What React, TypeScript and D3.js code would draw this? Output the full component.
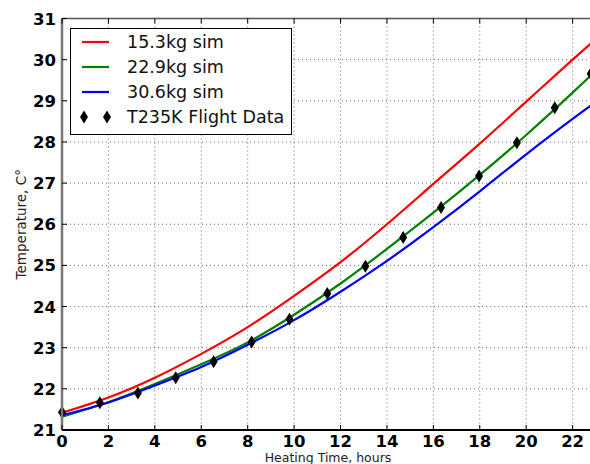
import React, { useRef, useEffect } from "react";
import * as d3 from "d3";

// Heating curves: simulated payload temperature vs. flight data
const simHours = [0, 2, 4, 6, 8, 10, 12, 14, 16, 18, 20, 22, 22.9];
const sim153 = [21.42, 21.79, 22.27, 22.85, 23.5, 24.26, 25.08, 26.0, 26.98, 27.96, 28.98, 30.0, 30.45];
const sim229 = [21.32, 21.68, 22.12, 22.6, 23.13, 23.8, 24.56, 25.4, 26.28, 27.2, 28.17, 29.2, 29.68];
const sim306 = [21.36, 21.67, 22.08, 22.53, 23.07, 23.67, 24.36, 25.11, 25.93, 26.8, 27.7, 28.56, 28.93];

const flightHours = [0, 1.63, 3.27, 4.9, 6.53, 8.17, 9.8, 11.43, 13.07, 14.7, 16.33, 17.97, 19.6, 21.23, 22.78];
const flightTemp = [21.43, 21.66, 21.9, 22.27, 22.66, 23.14, 23.69, 24.32, 24.98, 25.68, 26.41, 27.17, 27.98, 28.83, 29.66];

const xTicks = [0, 2, 4, 6, 8, 10, 12, 14, 16, 18, 20, 22];
const yTicks = [21, 22, 23, 24, 25, 26, 27, 28, 29, 30, 31];

const series = [
  { label: "15.3kg sim", values: sim153, color: "#ff0000" },
  { label: "22.9kg sim", values: sim229, color: "#008000" },
  { label: "30.6kg sim", values: sim306, color: "#0000ff" },
];
const flightLabel = "T235K Flight Data";

const W = 590;
const H = 464;
const margin = { left: 62, top: 18, bottom: 34 };
const pxPerHour = 23.21;

const diamond = (cx, cy) =>
  `M${cx},${cy - 6.5}L${cx + 4},${cy}L${cx},${cy + 6.5}L${cx - 4},${cy}Z`;

const HeatingChart = () => {
  const ref = useRef(null);

  useEffect(() => {
    const svgEl = ref.current;
    if (!svgEl) return;
    d3.select(svgEl).selectChildren().remove();
    const svg = d3.select(svgEl);

    const x = d3
      .scaleLinear()
      .domain([0, 22.9])
      .range([margin.left, margin.left + 22.9 * pxPerHour]);
    const y = d3
      .scaleLinear()
      .domain([21, 31])
      .range([H - margin.bottom, margin.top + 0.5]);

    const x0 = x.range()[0];
    const x1 = x.range()[1];
    const y0 = y.range()[0];
    const y1 = y.range()[1];

    svg.append("rect").attr("width", W).attr("height", H).attr("fill", "#fff");

    // Grid
    const grid = svg.append("g").attr("stroke", "#444").attr("stroke-width", 0.8).attr("stroke-dasharray", "1,3");
    grid
      .selectAll("line.gx")
      .data(xTicks.slice(1))
      .enter()
      .append("line")
      .attr("x1", (d) => x(d))
      .attr("x2", (d) => x(d))
      .attr("y1", y1)
      .attr("y2", y0);
    grid
      .selectAll("line.gy")
      .data(yTicks.slice(1, -1))
      .enter()
      .append("line")
      .attr("x1", x0)
      .attr("x2", x1)
      .attr("y1", (d) => y(d))
      .attr("y2", (d) => y(d));

    // Curves
    const line = d3
      .line()
      .x((d) => x(d[0]))
      .y((d) => y(d[1]))
      .curve(d3.curveNatural);

    svg
      .append("clipPath")
      .attr("id", "plot-clip")
      .append("rect")
      .attr("x", x0)
      .attr("y", y1)
      .attr("width", x1 - x0)
      .attr("height", y0 - y1);

    const plot = svg.append("g").attr("clip-path", "url(#plot-clip)");
    series.forEach((s) => {
      plot
        .append("path")
        .attr("d", line(simHours.map((h, i) => [h, s.values[i]])))
        .attr("fill", "none")
        .attr("stroke", s.color)
        .attr("stroke-width", 2.2);
    });

    // Flight data markers
    svg
      .append("g")
      .selectAll("path")
      .data(flightHours.map((h, i) => [h, flightTemp[i]]))
      .enter()
      .append("path")
      .attr("d", (d) => diamond(x(d[0]), y(d[1])))
      .attr("fill", "#000");

    // Spines
    svg.append("line").attr("x1", x0).attr("x2", x0).attr("y1", y1).attr("y2", y0).attr("stroke", "#777").attr("stroke-width", 2.5);
    svg.append("line").attr("x1", x0).attr("x2", W).attr("y1", y1).attr("y2", y1).attr("stroke", "#555").attr("stroke-width", 1.5);
    svg.append("line").attr("x1", x0).attr("x2", W).attr("y1", y0).attr("y2", y0).attr("stroke", "#000").attr("stroke-width", 1.8);

    // Tick marks (inward)
    const ticks = svg.append("g").attr("stroke", "#000").attr("stroke-width", 1);
    xTicks.forEach((t) => {
      ticks.append("line").attr("x1", x(t)).attr("x2", x(t)).attr("y1", y0).attr("y2", y0 - 5);
      ticks.append("line").attr("x1", x(t)).attr("x2", x(t)).attr("y1", y1).attr("y2", y1 + 5);
    });
    yTicks.forEach((t) => {
      ticks.append("line").attr("x1", x0).attr("x2", x0 + 5).attr("y1", y(t)).attr("y2", y(t));
    });

    // Tick labels
    const font = "'DejaVu Sans', sans-serif";
    svg
      .append("g")
      .selectAll("text")
      .data(xTicks)
      .enter()
      .append("text")
      .attr("x", (d) => x(d))
      .attr("y", y0 + 16.5)
      .attr("text-anchor", "middle")
      .attr("font-family", font)
      .attr("font-weight", "bold")
      .attr("font-size", 16.5)
      .text((d) => d);
    svg
      .append("g")
      .selectAll("text")
      .data(yTicks)
      .enter()
      .append("text")
      .attr("x", x0 - 6)
      .attr("y", (d) => y(d) + 6)
      .attr("text-anchor", "end")
      .attr("font-family", font)
      .attr("font-weight", "bold")
      .attr("font-size", 16.5)
      .text((d) => d);

    // Axis titles
    svg
      .append("text")
      .attr("x", 328)
      .attr("y", 461.5)
      .attr("text-anchor", "middle")
      .attr("font-family", font)
      .attr("font-size", 12.5)
      .attr("fill", "#222")
      .text("Heating Time, hours");
    svg
      .append("text")
      .attr("transform", `translate(26, ${(y0 + y1) / 2}) rotate(-90)`)
      .attr("text-anchor", "middle")
      .attr("font-family", font)
      .attr("font-size", 13.5)
      .attr("fill", "#222")
      .text("Temperature, C°");

    // Legend
    const lg = svg.append("g");
    lg.append("rect")
      .attr("x", 70.5)
      .attr("y", 28.5)
      .attr("width", 221)
      .attr("height", 106)
      .attr("fill", "#fff")
      .attr("stroke", "#000")
      .attr("stroke-width", 1);
    const rowY = [42, 67, 92, 117];
    series.forEach((s, i) => {
      lg.append("line")
        .attr("x1", 82)
        .attr("x2", 109)
        .attr("y1", rowY[i])
        .attr("y2", rowY[i])
        .attr("stroke", s.color)
        .attr("stroke-width", 2.2);
      lg.append("text")
        .attr("x", 127)
        .attr("y", rowY[i] + 6)
        .attr("font-family", font)
        .attr("font-size", 17.5)
        .attr("fill", "#111")
        .text(s.label);
    });
    [84, 107].forEach((cx) => {
      lg.append("path").attr("d", diamond(cx, rowY[3])).attr("fill", "#000");
    });
    lg.append("text")
      .attr("x", 127)
      .attr("y", rowY[3] + 6)
      .attr("font-family", font)
      .attr("font-size", 17.5)
      .attr("fill", "#111")
      .text(flightLabel);
  }, []);

  return (
    <svg
      ref={ref}
      width={W}
      height={H}
      style={{ position: "absolute", left: 0, top: 0 }}
    />
  );
};

export default function App() {
  return <HeatingChart />;
}
